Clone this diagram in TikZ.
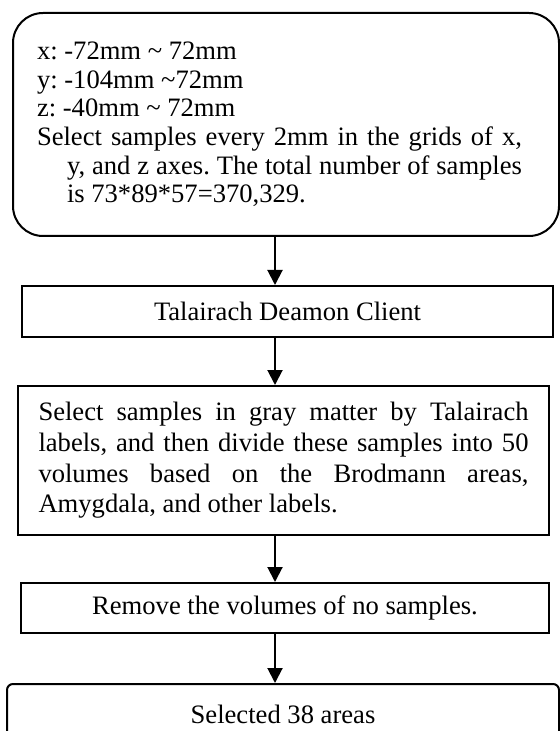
\documentclass[tikz,border=0pt]{standalone}
\usepackage{fontspec}
\setmainfont{Liberation Serif}
\usetikzlibrary{arrows.meta}

\begin{document}
\begin{tikzpicture}[x=0.5pt,y=-0.5pt,
		caja/.style={draw, line width=1pt, inner sep=0pt, font=\fontsize{13.3}{14.3}\selectfont\frenchspacing},
		flujo/.style={line width=1pt, -{Triangle[length=7.5pt,width=7.5pt]}}]
			% Marco
			\useasboundingbox (0,0) rectangle (560,731);

			% Cajas
			\node[caja, rounded corners=15pt, minimum width=273pt, minimum height=111.5pt,
				text width=249pt, align=justify] (rango) at (286,124.5)
				{\rightskip=6.5pt
				x: -72mm \textasciitilde{} 72mm\\
				y: -104mm \textasciitilde72mm\\
				z: -40mm \textasciitilde{} 72mm\par
				\hangindent=15pt\hangafter=1
				Select samples every 2mm in the grids of x,\linebreak
				y, and z axes. The total number of samples\linebreak
				is 73*89*57=370,329.\par};
			\node[caja, minimum width=265.5pt, minimum height=25.5pt] (cliente) at (287.5,311.5)
				{Talairach Deamon Client};
			\node[caja, minimum width=265.5pt, minimum height=74.5pt,
				text width=245pt, align=justify, font=\fontsize{13.3}{15.3}\selectfont\frenchspacing] (volumenes) at (283.5,460.5)
				{Select samples in gray matter by Talairach\linebreak
				labels, and then divide these samples into 50\linebreak
				volumes based on the Brodmann areas,\linebreak
				Amygdala, and other labels.};
			\node[caja, minimum width=264pt, minimum height=25pt] (quitar) at (285,608)
				{Remove the volumes of no samples.};
			\node[caja, rounded corners=3pt, minimum width=276pt, minimum height=30pt] (areas) at (283,714)
				{Selected 38 areas};

			% Flechas
			\coordinate (eje) at (275,0);
			\draw[flujo] (rango.south -| eje) -- (cliente.north -| eje);
			\draw[flujo] (cliente.south -| eje) -- (volumenes.north -| eje);
			\draw[flujo] (volumenes.south -| eje) -- (quitar.north -| eje);
			\draw[flujo] (quitar.south -| eje) -- (areas.north -| eje);

		\end{tikzpicture}
\end{document}
